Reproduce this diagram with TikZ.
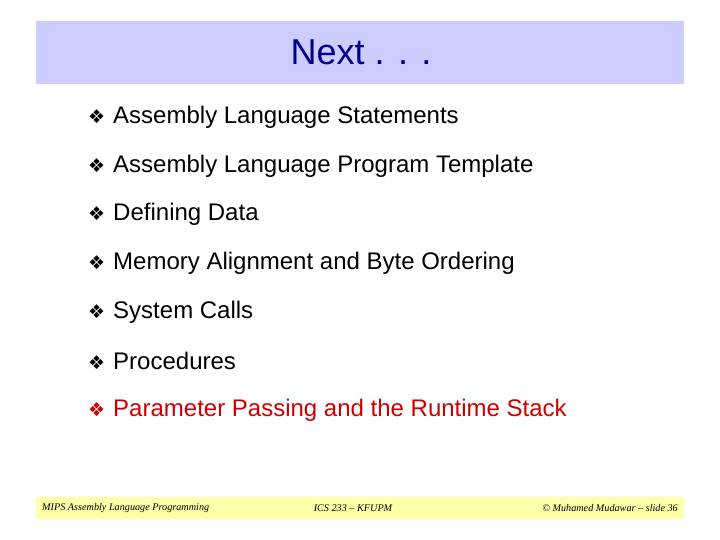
\documentclass[tikz,border=0pt]{standalone}
\usepackage{fontspec}
\setmainfont{Liberation Sans}
\newfontfamily\dv{DejaVu Sans}
\newfontfamily\ser{Liberation Serif}
\definecolor{titlebg}{RGB}{204,204,255}
\definecolor{titlefg}{RGB}{0,0,140}
\definecolor{footbg}{RGB}{255,255,170}
\definecolor{bulred}{RGB}{204,0,0}
\begin{document}
\begin{tikzpicture}[x=1pt,y=-1pt,
  item/.style={anchor=west,inner sep=0pt,font=\fontsize{24}{26}\selectfont},
  foot/.style={inner sep=0pt,font=\ser\itshape\fontsize{10.2}{12}\selectfont}]
\useasboundingbox (0,0) rectangle (720,540);
\fill[white] (0,0) rectangle (720,540);
\fill[titlebg] (36,21) rectangle (684,84);
\node[text=titlefg,font=\fontsize{36}{40}\selectfont,inner sep=0pt] (title) at (361,52) {Next . . .};
\foreach \y/\t [count=\i] in {117/Assembly Language Statements,166/Assembly Language Program Template,214/Defining Data,263/Memory Alignment and Byte Ordering,312/System Calls,361/Procedures}
  \node[item] (b\i) at (88,\y) {{\dv\fontsize{19}{20}\selectfont ❖}\hspace{8pt}\t};
\node[item,text=bulred] (b7) at (88,410) {{\dv\fontsize{19}{20}\selectfont ❖}\hspace{8pt}Parameter Passing and the Runtime Stack};
\fill[footbg] (36,497) rectangle (684,519);
\node[foot,anchor=west] (f1) at (42,508) {MIPS Assembly Language Programming};
\node[foot] (f2) at (353,508) {ICS 233 – KFUPM};
\node[foot,anchor=east] (f3) at (678,508) {© Muhamed Mudawar – slide 36};
\end{tikzpicture}
\end{document}
